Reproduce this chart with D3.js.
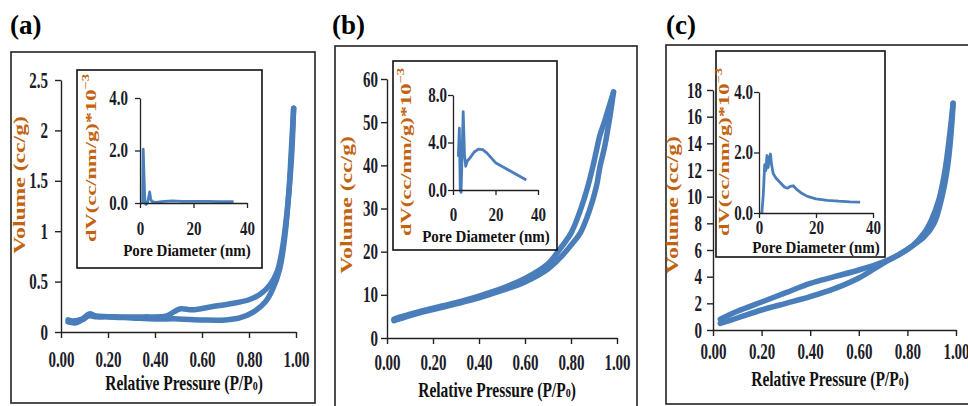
<!DOCTYPE html>
<html>
<head>
<meta charset="utf-8">
<script src="https://cdn.jsdelivr.net/npm/d3@7/dist/d3.min.js"></script>
<style>
body { margin: 0; background: #fff; }
svg text { font-family: "Liberation Serif", "Times New Roman", serif; font-weight: bold; }
</style>
</head>
<body>
<svg width="968" height="406"></svg>
<script>
// tick values
const relTicks = [0, 0.2, 0.4, 0.6, 0.8, 1.0]
const poreTicks = [0, 20, 40]
const volTicksA = [0, 0.5, 1, 1.5, 2, 2.5]
const volTicksB = [0, 10, 20, 30, 40, 50, 60]
const volTicksC = [0, 2, 4, 6, 8, 10, 12, 14, 16, 18]
const dvTicksA = [0, 2, 4]
const dvTicksB = [0, 4, 8]
const dvTicksC = [0, 2, 4]

// isotherms [P/P0, volume]
const adsA = [[0.03,0.10],[0.06,0.09],[0.09,0.12],[0.12,0.16],[0.15,0.15],[0.2,0.15],[0.3,0.14],[0.4,0.13],[0.5,0.13],[0.6,0.12],[0.7,0.12],[0.76,0.14],[0.82,0.2],[0.87,0.3],[0.9,0.42],[0.93,0.62],[0.95,0.9],[0.97,1.4],[0.98,1.8],[0.99,2.22]]
const desA = [[0.99,2.22],[0.98,1.7],[0.96,1.15],[0.94,0.8],[0.92,0.6],[0.89,0.47],[0.85,0.38],[0.8,0.32],[0.72,0.28],[0.64,0.25],[0.56,0.22],[0.51,0.23],[0.48,0.2],[0.45,0.16],[0.35,0.15],[0.25,0.15],[0.15,0.16],[0.12,0.18],[0.09,0.13],[0.05,0.11],[0.03,0.12]]
const adsB = [[0.03,4],[0.1,5.2],[0.2,6.6],[0.3,7.9],[0.4,9.3],[0.5,11],[0.6,13],[0.7,16],[0.76,19],[0.8,21.5],[0.84,24.3],[0.88,29.5],[0.91,35],[0.926,39.7],[0.945,44],[0.957,47.4],[0.97,51.5],[0.985,57]]
const desB = [[0.985,57],[0.965,53.5],[0.945,50],[0.926,47],[0.91,43.3],[0.895,39.7],[0.87,34.5],[0.84,29.5],[0.8,24.3],[0.75,20.5],[0.7,17.2],[0.6,13.8],[0.5,11.5],[0.4,9.7],[0.3,8.2],[0.2,6.9],[0.1,5.5],[0.03,4.4]]
const adsC = [[0.03,0.5],[0.1,0.9],[0.2,1.5],[0.3,2.0],[0.4,2.5],[0.5,3.1],[0.6,3.9],[0.7,5.0],[0.76,5.6],[0.82,6.3],[0.87,7.0],[0.91,8.0],[0.94,9.8],[0.965,12.2],[0.98,14.8],[0.988,17]]
const desC = [[0.988,17],[0.975,14.8],[0.955,12],[0.93,9.8],[0.9,8.3],[0.87,7.3],[0.82,6.3],[0.76,5.6],[0.7,5.1],[0.6,4.5],[0.5,4.0],[0.4,3.5],[0.3,2.8],[0.2,2.1],[0.1,1.4],[0.03,0.8]]

// pore size distributions [diameter nm, dV*10^-3]
const psdA = [[1.0,0],[1.2,2.05],[1.5,1.0],[1.8,0.1],[2.2,-0.05],[2.8,0.0],[3.2,0.2],[3.6,0.42],[4.0,0.15],[4.5,0.05],[6,0.02],[8,0.05],[12,0.08],[16,0.06],[20,0.06],[25,0.06],[30,0.05],[35,0.05]]
const psdB = [[2.5,2.8],[3.0,5.2],[3.4,0.0],[3.8,-0.2],[4.2,2.5],[4.8,6.6],[5.4,3.0],[6.0,2.0],[6.6,2.4],[8,2.7],[10,3.2],[12,3.45],[14,3.4],[16,3.1],[18,2.7],[20,2.3],[24,1.9],[28,1.5],[32,1.1],[34.5,0.85]]
const psdC = [[1.0,0],[1.5,0.6],[2.0,1.6],[2.4,1.4],[2.8,1.9],[3.2,1.5],[3.6,1.8],[4.0,1.95],[4.4,1.6],[5.0,1.3],[6,1.15],[7,1.05],[8,0.95],[9,0.85],[10,0.82],[11,0.88],[12,0.9],[13,0.8],[15,0.65],[17,0.55],[20,0.47],[24,0.42],[28,0.39],[32,0.37],[35.5,0.36]]

const blue = '#4a7ebb'
const orange = '#c2630f'
const dark = '#1c1c28'

const svg = d3.select('svg')

function label(g, x, y, str, fs, sy, fill, anchor){
  return g.append('text')
    .attr('transform', `translate(${x},${y}) scale(1,${sy})`)
    .attr('font-size', fs).attr('fill', fill)
    .attr('text-anchor', anchor || 'middle')
    .text(str)
}

function vlabel(g, x, y, str, sup, fs, sx){
  const t = g.append('text')
    .attr('transform', `translate(${x},${y}) rotate(-90) scale(${sx},1)`)
    .attr('font-size', fs).attr('fill', orange)
    .attr('text-anchor', 'middle')
    .text(str)
  if (sup) t.append('tspan').attr('font-size', fs*0.65).attr('dy', -fs*0.45).text(sup)
}

function styleAxis(a, sw){
  a.attr('font-family', null).attr('font-size', null).attr('color', '#222')
  a.selectAll('path, line').attr('stroke-width', sw)
}

function panel(p){
  const g = svg.append('g')
  g.append('rect').attr('x', p.frame[0]).attr('y', p.frame[1])
    .attr('width', p.frame[2]-p.frame[0]).attr('height', p.frame[3]-p.frame[1])
    .attr('fill', 'none').attr('stroke', '#222').attr('stroke-width', 1.6)
  g.append('text').attr('x', p.title[0]).attr('y', p.title[1])
    .attr('font-size', 27).attr('fill', '#000').text(p.name)

  const x = d3.scaleLinear().domain([0, 1]).range([p.x0, p.x1])
  const y = d3.scaleLinear().domain([0, p.ymax]).range([p.y0, p.y1])
  const line = d3.line().x(d => x(d[0])).y(d => y(d[1])).curve(d3.curveCatmullRom)
  p.series.forEach(s => g.append('path').datum(s).attr('d', line)
    .attr('fill', 'none').attr('stroke', blue).attr('stroke-width', 5.5)
    .attr('stroke-linejoin', 'round').attr('stroke-linecap', 'round'))

  const ax = g.append('g').attr('transform', `translate(0,${p.y0})`)
    .call(d3.axisBottom(x).tickValues(relTicks).tickSize(6).tickSizeOuter(0).tickFormat(d3.format('.2f')))
  styleAxis(ax, 1.4)
  ax.selectAll('text').attr('y', null).attr('dy', null).attr('font-size', 15).attr('fill', dark)
    .attr('transform', `translate(0,${p.xlab}) scale(1,1.55)`)
  const ay = g.append('g').attr('transform', `translate(${p.x0},0)`)
    .call(d3.axisLeft(y).tickValues(p.yticks).tickSize(6).tickSizeOuter(0).tickFormat(d3.format('')))
  styleAxis(ay, 1.4)
  ay.selectAll('text').attr('x', null).attr('dy', null).attr('font-size', 15).attr('fill', dark)
    .attr('text-anchor', 'end').attr('transform', `translate(${-p.ygap},7) scale(1,1.5)`)

  label(g, p.rel[0], p.rel[1], '', 15.5, 1.3, '#111')
    .call(t => { t.append('tspan').text('Relative Pressure (P/P'); t.append('tspan').attr('font-size', 10).text('0'); t.append('tspan').text(')') })
  vlabel(g, p.vol[0], p.vol[1], 'Volume (cc/g)', null, 16, 1.48)

  // inset
  const b = p.inset
  g.append('rect').attr('x', b.box[0]).attr('y', b.box[1])
    .attr('width', b.box[2]-b.box[0]).attr('height', b.box[3]-b.box[1])
    .attr('fill', '#fff').attr('stroke', '#111').attr('stroke-width', 1.6)
  const ix = d3.scaleLinear().domain([0, 40]).range([b.x0, b.x1])
  const iy = d3.scaleLinear().domain([0, b.ymax]).range([b.y0, b.y1])
  const iline = d3.line().x(d => ix(d[0])).y(d => iy(d[1])).curve(d3.curveLinear)
  g.append('path').datum(b.data).attr('d', iline)
    .attr('fill', 'none').attr('stroke', blue).attr('stroke-width', 2.8).attr('stroke-linejoin', 'round')
  const bx = g.append('g').attr('transform', `translate(0,${b.y0})`)
    .call(d3.axisBottom(ix).tickValues(poreTicks).tickSize(5).tickSizeOuter(0).tickFormat(d3.format('d')))
  styleAxis(bx, 1.3)
  bx.selectAll('text').attr('y', null).attr('dy', null).attr('font-size', 15).attr('fill', dark)
    .attr('transform', `translate(0,${b.xlab}) scale(1,1.3)`)
  const by = g.append('g').attr('transform', `translate(${b.x0},0)`)
    .call(d3.axisLeft(iy).tickValues(b.yticks).tickSize(5).tickSizeOuter(0).tickFormat(d3.format('.1f')))
  styleAxis(by, 1.3)
  by.selectAll('text').attr('x', null).attr('dy', null).attr('font-size', 15).attr('fill', dark)
    .attr('text-anchor', 'end').attr('transform', `translate(${-b.ygap},6) scale(1,1.35)`)
  label(g, b.pore[0], b.pore[1], 'Pore Diameter (nm)', 15, 1.15, '#111')
  vlabel(g, b.dv[0], b.dv[1], 'dV(cc/nm/g)*10', '\u22123', 15, 1.5)
}

panel({
  name: '(a)', title: [10, 34], frame: [11, 52, 315, 403],
  x0: 61, x1: 296, y0: 332, y1: 80, ymax: 2.5, yticks: volTicksA,
  xlab: 35, ygap: 13, rel: [184, 390], vol: [25, 185],
  series: [adsA, desA],
  inset: { box: [77, 70, 262, 268], x0: 140, x1: 247, y0: 203, y1: 98, ymax: 4, yticks: dvTicksA,
    xlab: 32, ygap: 12, pore: [187, 256], dv: [96, 158], data: psdA }
})
panel({
  name: '(b)', title: [332, 34], frame: [335, 46, 637, 412],
  x0: 387, x1: 617, y0: 338, y1: 79, ymax: 60, yticks: volTicksB,
  xlab: 32, ygap: 9, rel: [497, 397], vol: [352, 205],
  series: [adsB, desB],
  inset: { box: [393, 61, 557, 250], x0: 453, x1: 538, y0: 190, y1: 95, ymax: 8, yticks: dvTicksB,
    xlab: 31, ygap: 6, pore: [486, 242], dv: [411, 152], data: psdB }
})
panel({
  name: '(c)', title: [666, 34], frame: [666, 45, 975, 404],
  x0: 713, x1: 956, y0: 330, y1: 90, ymax: 18, yticks: volTicksC,
  xlab: 29, ygap: 11, rel: [830, 386], vol: [678, 205],
  series: [adsC, desC],
  inset: { box: [716, 51, 885, 257], x0: 759, x1: 873, y0: 213, y1: 92, ymax: 4, yticks: dvTicksC,
    xlab: 21, ygap: 6, pore: [816, 253], dv: [729, 152], data: psdC }
})
</script>
</body>
</html>
